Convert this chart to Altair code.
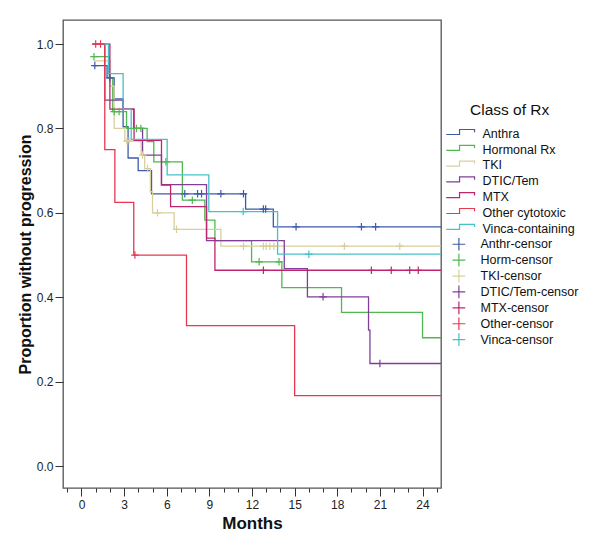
import altair as alt
import pandas as pd

FONT = "Liberation Sans"

series_names = ["Anthra", "Hormonal Rx", "TKI", "DTIC/Tem", "MTX",
                "Other cytotoxic", "Vinca-containing"]
censor_names = ["Anthr-censor", "Horm-censor", "TKI-censor", "DTIC/Tem-censor",
                "MTX-censor", "Other-censor", "Vinca-censor"]
series_colors = ["#3e5ba9", "#4fb84f", "#d9cf9c", "#7f3f98", "#c0246e",
                 "#e8384f", "#45c1c8"]

# Kaplan-Meier step curves (time in months, proportion without progression)
anthra_t = [0.8, 1.8, 2.3, 2.93, 3.28, 3.99, 4.93, 11.55, 13.5, 26]
anthra_s = [0.949, 0.92, 0.87, 0.804, 0.73, 0.70, 0.645, 0.609, 0.567, 0.567]
horm_t = [0.8, 1.95, 2.2, 3.17, 4.62, 5.09, 7.1, 8.68, 9.39, 11.97, 14.1, 18.3, 24.0, 26]
horm_s = [0.97, 0.92, 0.84, 0.80, 0.769, 0.721, 0.63, 0.583, 0.534, 0.484, 0.423, 0.364, 0.304, 0.304]
tki_t = [0.9, 2.0, 2.3, 3.05, 4.2, 4.45, 4.85, 5.0, 6.52, 9.81, 26]
tki_s = [0.96, 0.90, 0.80, 0.77, 0.737, 0.705, 0.65, 0.60, 0.561, 0.521, 0.521]
dtic_t = [0.8, 1.64, 2.93, 3.68, 4.3, 5.63, 8.8, 14.27, 15.9, 20.2, 20.3, 26]
dtic_s = [1.0, 0.867, 0.846, 0.80, 0.737, 0.667, 0.534, 0.468, 0.401, 0.322, 0.243, 0.243]
mtx_t = [0.8, 2.0, 3.7, 5.63, 6.27, 8.8, 9.39, 26]
mtx_s = [1.0, 0.846, 0.772, 0.666, 0.615, 0.54, 0.464, 0.464]
other_t = [0.77, 1.64, 2.35, 3.68, 7.39, 15.0, 26]
other_s = [1.0, 0.75, 0.625, 0.5, 0.333, 0.167, 0.167]
vinca_t = [0.85, 1.9, 2.93, 3.5, 6.03, 8.96, 13.8, 26]
vinca_s = [1.0, 0.93, 0.845, 0.774, 0.69, 0.603, 0.502, 0.502]

# censored observations
anthra_ct = [0.94, 2.0, 7.27, 8.17, 8.45, 9.81, 11.4, 12.8, 12.96, 15.1, 19.7, 20.7]
anthra_cs = [0.949, 0.92, 0.645, 0.645, 0.645, 0.645, 0.645, 0.609, 0.609, 0.567, 0.567, 0.567]
horm_ct = [0.88, 2.3, 2.65, 3.87, 4.18, 5.94, 7.8, 12.5, 13.9]
horm_cs = [0.97, 0.84, 0.84, 0.80, 0.80, 0.721, 0.63, 0.484, 0.484]
tki_ct = [3.2, 3.35, 4.3, 4.65, 5.35, 6.69, 11.4, 12.8, 13.0, 13.26, 13.54, 18.5, 22.4]
tki_cs = [0.77, 0.77, 0.737, 0.705, 0.60, 0.561, 0.521, 0.521, 0.521, 0.521, 0.521, 0.521, 0.521]
dtic_ct = [17.0, 21.0]
dtic_cs = [0.401, 0.243]
mtx_ct = [12.8, 20.4, 21.8, 23.1, 23.7]
mtx_cs = [0.464, 0.464, 0.464, 0.464, 0.464]
other_ct = [1.0, 1.34, 3.76]
other_cs = [1.0, 1.0, 0.5]
vinca_ct = [11.38, 16.0]
vinca_cs = [0.603, 0.502]

x_major = [0, 3, 6, 9, 12, 15, 18, 21, 24]
x_minor = list(range(-1, 26))
y_ticks = [0.0, 0.2, 0.4, 0.6, 0.8, 1.0]

curves_t = [anthra_t, horm_t, tki_t, dtic_t, mtx_t, other_t, vinca_t]
curves_s = [anthra_s, horm_s, tki_s, dtic_s, mtx_s, other_s, vinca_s]
cens_t = [anthra_ct, horm_ct, tki_ct, dtic_ct, mtx_ct, other_ct, vinca_ct]
cens_s = [anthra_cs, horm_cs, tki_cs, dtic_cs, mtx_cs, other_cs, vinca_cs]

line_rows = []
for name, ts, ss in zip(series_names, curves_t, curves_s):
    for t, s in zip(ts, ss):
        line_rows.append({"key": name, "t": t, "s": s})
cens_rows = []
for name, ts, ss in zip(censor_names, cens_t, cens_s):
    for t, s in zip(ts, ss):
        cens_rows.append({"key": name, "t": t, "s": s})

lines_df = pd.DataFrame(line_rows)
cens_df = pd.DataFrame(cens_rows)

x_scale = alt.Scale(domain=[-1.3, 25.3], nice=False, zero=False)
y_scale = alt.Scale(domain=[-0.052, 1.057], nice=False, zero=False)

y_axis = alt.Axis(values=y_ticks, format=".1f", tickSize=8, labelPadding=2,
                  labelFontSize=12, labelFont=FONT, labelColor="#222",
                  title="Proportion without progression", titleFontSize=16,
                  titleFont=FONT, titleFontWeight="bold", titleColor="#111",
                  titlePadding=3, grid=False, domain=False, tickColor="#333")

x_axis_major = alt.Axis(values=x_major, tickSize=8, labelPadding=3, labelFontSize=12,
                        labelFont=FONT, labelColor="#222", title="Months",
                        titleFontSize=17, titleFont=FONT, titleFontWeight="bold",
                        titleColor="#111", titlePadding=5, grid=False, domain=False,
                        tickColor="#333", orient="bottom", labelFlush=False)
x_axis_minor = alt.Axis(values=x_minor, tickSize=4, labels=False, title=None,
                        grid=False, domain=False, tickColor="#333", orient="bottom")

common_legend = dict(
    orient="none",
    labelFontSize=12.5, labelFont=FONT, labelColor="#111",
    symbolSize=100, symbolStrokeWidth=1.2, padding=0,
    symbolFillColor="transparent",
)

legend_lines = alt.Legend(
    title="Class of Rx", legendX=407, legendY=83, rowPadding=1.8, labelOffset=0,
    titleFontSize=15.5, titleFont=FONT, titleFontWeight="normal", titleColor="#111",
    titleAnchor="start", titlePadding=9,
    symbolType="M-6,0.15H-3.34V-0.85H-0.34V-0.3",
    **common_legend,
)
legend_cens = alt.Legend(
    title=None, legendX=400, legendY=218, rowPadding=-2.1, labelOffset=5,
    symbolType="M-3.34,0H-0.8M-2.07,-1.27V1.27",
    **common_legend,
)

lines = alt.Chart(lines_df).mark_line(interpolate="step-after", clip=True).encode(
    x=alt.X("t:Q", scale=x_scale, axis=x_axis_major),
    y=alt.Y("s:Q", scale=y_scale, axis=y_axis),
    color=alt.Color("key:N", scale=alt.Scale(domain=series_names, range=series_colors),
                    legend=legend_lines),
    strokeWidth=alt.StrokeWidth("key:N", scale=alt.Scale(domain=series_names,
                                range=[1.3, 1.3, 1.3, 1.3, 2.0, 1.3, 1.3]), legend=None),
    order=alt.Order("t:Q"),
)

censors = alt.Chart(cens_df).mark_point(
    shape="M0,-1V1M-1,0H1", size=56, filled=False, strokeWidth=1.2, opacity=1, clip=True
).encode(
    x=alt.X("t:Q", scale=x_scale, axis=x_axis_minor),
    y=alt.Y("s:Q", scale=y_scale),
    color=alt.Color("key:N", scale=alt.Scale(domain=censor_names, range=series_colors),
                    legend=legend_cens),
)

chart = alt.layer(lines, censors).resolve_axis(x="independent").resolve_scale(
    color="independent"
).properties(
    width=378, height=468,
    autosize=alt.AutoSizeParams(type="none"),
    padding={"left": 55, "top": 12, "right": 150, "bottom": 50},
    background="white",
).configure_view(stroke="#555", strokeWidth=1.3)

chart.save("out.html", embed_options={"renderer": "svg", "actions": False})
